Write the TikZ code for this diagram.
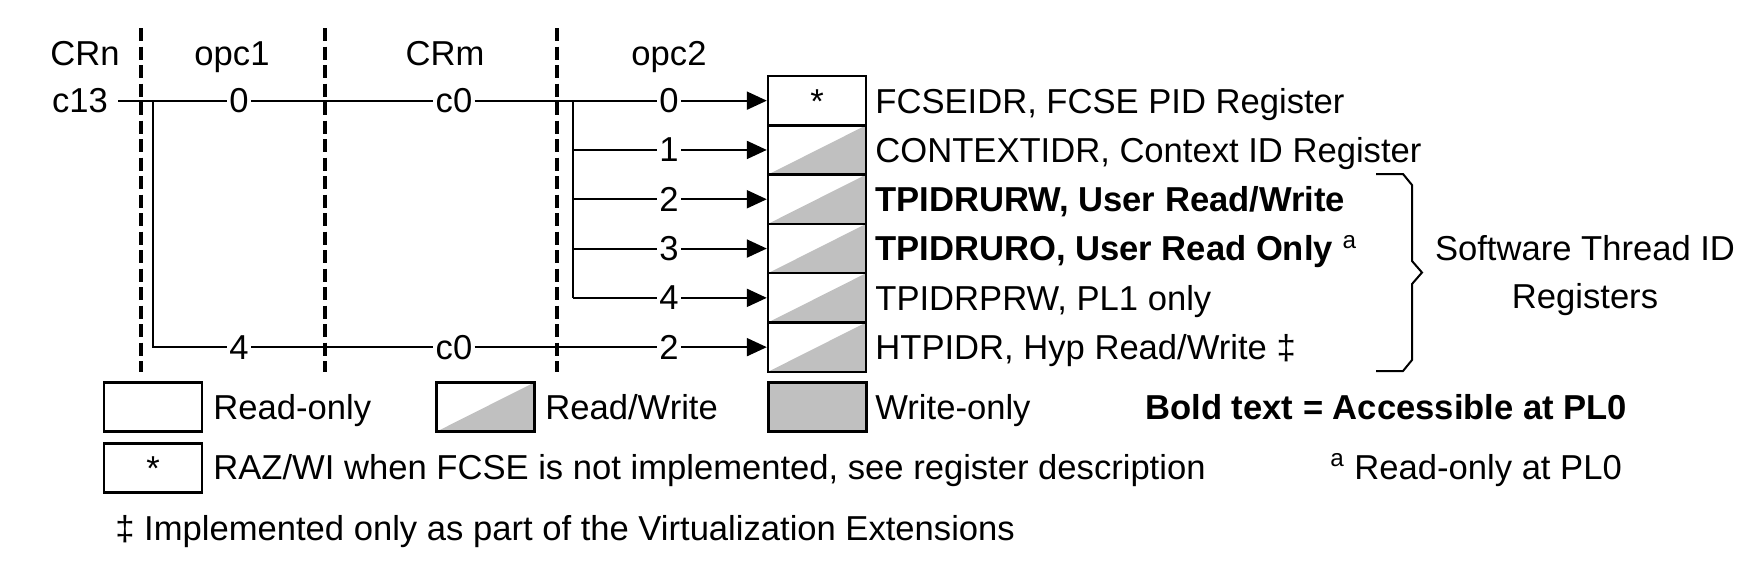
\documentclass[tikz,border=0pt]{standalone}
\usepackage{fontspec}
\setmainfont{Liberation Sans}
\usetikzlibrary{arrows.meta}
\definecolor{cellgray}{RGB}{192,192,192}
\begin{document}
\begin{tikzpicture}[x=0.5pt,y=-0.5pt,
  every node/.style={font=\fontsize{17.3}{20}\selectfont, inner sep=0pt},
  lab/.style={inner sep=1pt},
  txt/.style={anchor=base west},
  hdr/.style={anchor=base},
  conn/.style={line width=1pt},
  arr/.style={conn, -{Triangle[length=10pt,width=9pt]}},
  sepline/.style={line width=1.8pt, dash pattern=on 6.5pt off 2.75pt},
  cell/.style={draw, line width=1.2pt, minimum width=49pt, minimum height=24.65pt, inner sep=0pt},
  rwcell/.style={cell, path picture={\fill[cellgray] (path picture bounding box.south west) -- (path picture bounding box.south east) -- (path picture bounding box.north east) -- cycle;}},
  wocell/.style={cell, fill=cellgray},
  bracestyle/.style={line width=1pt, line join=miter}
]
\useasboundingbox (0,0) rectangle (1757,574);

% headers
\node[hdr] (hCRn) at (85,65) {CRn};
\node[hdr] (hopc1) at (232,65) {opc1};
\node[hdr] (hCRm) at (445,65) {CRm};
\node[hdr] (hopc2) at (669,65) {opc2};

% dashed separators
\coordinate (d1t) at (141,28); \coordinate (d1b) at (141,372);
\coordinate (d2t) at (325,28); \coordinate (d2b) at (325,372);
\coordinate (d3t) at (557,28); \coordinate (d3b) at (557,372);
\draw[sepline] (d1t) -- (d1b);
\draw[sepline] (d2t) -- (d2b);
\draw[sepline] (d3t) -- (d3b);

% register cells
\node[cell] (r0) at (817,100.65) {};
\node[hdr] (star0) at (817,113) {*};
\node[rwcell] (r1) at (817,149.95) {};
\node[rwcell] (r2) at (817,199.25) {};
\node[rwcell] (r3) at (817,248.55) {};
\node[rwcell] (r4) at (817,297.85) {};
\node[rwcell] (r5) at (817,347.15) {};

% row labels on lines
\node[lab, inner sep=5pt] (c13) at (80,100.65) {c13};
\node[lab] (n0) at (239,100.65) {0};
\node[lab] (m0) at (454,100.65) {c0};
\node[lab] (o0) at (669,100.65) {0};
\node[lab] (o1) at (669,149.95) {1};
\node[lab] (o2) at (669,199.25) {2};
\node[lab] (o3) at (669,248.55) {3};
\node[lab] (o4) at (669,297.85) {4};
\node[lab] (n5) at (239,347.15) {4};
\node[lab] (m5) at (454,347.15) {c0};
\node[lab] (o5) at (669,347.15) {2};

% connectors
\coordinate (b1) at (153,100.65);
\coordinate (b1e) at (153,347.15);
\coordinate (b2) at (573,100.65);
\coordinate (b21) at (573,149.95);
\coordinate (b22) at (573,199.25);
\coordinate (b23) at (573,248.55);
\coordinate (b24) at (573,297.85);
\draw[conn] (c13) -- (n0) -- (m0) -- (o0);
\draw[arr] (o0) -- (r0);
\draw[conn] (b1) -- (b1e) -- (n5) -- (m5) -- (o5);
\draw[arr] (o5) -- (r5);
\draw[conn] (b2) -- (b24);
\draw[conn] (b21) -- (o1); \draw[arr] (o1) -- (r1);
\draw[conn] (b22) -- (o2); \draw[arr] (o2) -- (r2);
\draw[conn] (b23) -- (o3); \draw[arr] (o3) -- (r3);
\draw[conn] (b24) -- (o4); \draw[arr] (o4) -- (r4);

% register names
\node[txt] (t0) at (875,113) {FCSEIDR, FCSE PID Register};
\node[txt] (t1) at (875,162.3) {CONTEXTIDR, Context ID Register};
\node[txt] (t2) at (875,211.6) {\bfseries TPIDRURW, User Read/Write};
\node[txt] (t3) at (875,260.9) {\bfseries TPIDRURO, User Read Only \textsuperscript{\mdseries a}};
\node[txt] (t4) at (875,310.2) {TPIDRPRW, PL1 only};
\node[txt] (t5) at (875,359.5) {HTPIDR, Hyp Read/Write ‡};

% brace
\draw[bracestyle] (1376,174) -- (1403,174) -- (1412,185) -- (1412,261) -- (1422,272.5) -- (1412,284) -- (1412,360) -- (1403,371) -- (1376,371);
\node[hdr] (st1) at (1585,260.4) {Software Thread ID};
\node[hdr] (st2) at (1585,308.4) {Registers};

% legend
\node[cell] (lro) at (153,407) {};
\node[txt] (lrot) at (213,419.4) {Read-only};
\node[rwcell] (lrw) at (485.5,407) {};
\node[txt] (lrwt) at (545,419.4) {Read/Write};
\node[wocell] (lwo) at (817.5,407) {};
\node[txt] (lwot) at (875,419.4) {Write-only};
\node[txt] (lbold) at (1145,419.4) {\bfseries Bold text = Accessible at PL0};
\node[cell] (lstar) at (153,468) {};
\node[hdr] (lstart) at (153,480) {*};
\node[txt] (lraz) at (213,479.4) {RAZ/WI when FCSE is not implemented, see register description};
\node[txt] (lsupa) at (1330,479.4) {\textsuperscript{a} Read-only at PL0};
\node[txt] (lvirt) at (115,540.4) {‡ Implemented only as part of the Virtualization Extensions};
\end{tikzpicture}
\end{document}
